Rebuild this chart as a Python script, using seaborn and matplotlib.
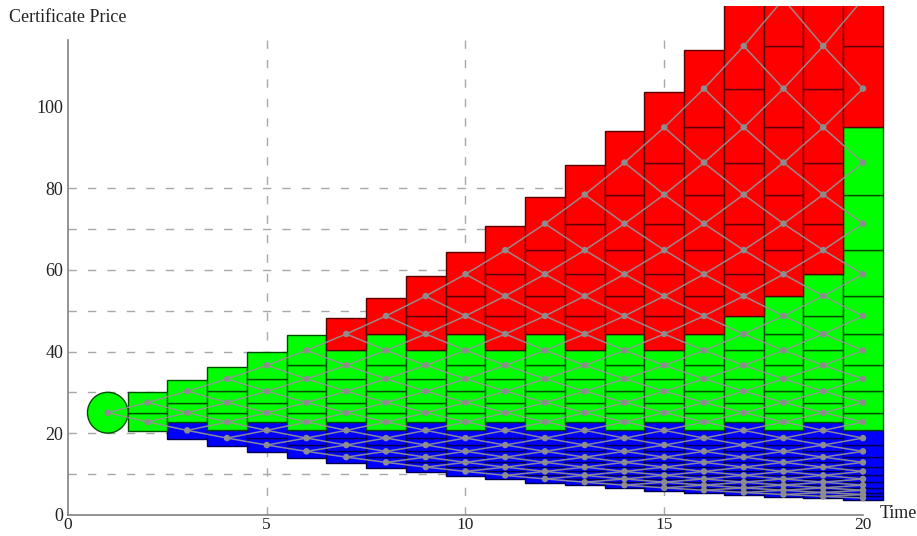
import matplotlib
matplotlib.use("Agg")
import matplotlib.pyplot as plt
import seaborn as sns
import pandas as pd
from matplotlib.patches import Ellipse

# ---------------- data ----------------
# price levels of the recombining lattice, index k = -20 .. 20
level_k = list(range(-20, 21))
level_price = [3.717, 4.088, 4.497, 4.947, 5.441, 5.985, 6.584, 7.242, 7.966,
               8.763, 9.639, 10.603, 11.663, 12.829, 14.112, 15.523, 17.075,
               18.783, 20.661, 22.727, 25.0, 27.5, 30.25, 33.275, 36.603,
               40.263, 44.289, 48.718, 53.590, 58.949, 64.844, 71.328, 78.461,
               86.307, 94.937, 104.431, 114.874, 126.362, 138.998, 152.898,
               168.187]
times = [1, 2, 3, 4, 5, 6, 7, 8, 9, 10, 11, 12, 13, 14, 15, 16, 17, 18, 19, 20]
# highest lattice index coloured blue (all columns)
blue_max_k = -2
# lowest lattice index coloured red, per time step (None = no red)
red_min_k = [None, None, None, None, None, None, 6, 7, 6, 7, 6, 7, 6, 7, 6, 7,
             8, 9, 10, 15]
x_ticks = [0, 5, 10, 15, 20]
y_ticks = [0, 20, 40, 60, 80, 100]
grid_x = [5, 10, 15]
grid_y = [10, 20, 30, 40, 50, 60, 70, 80]

price = dict(zip(level_k, level_price))

# ---------------- build tables ----------------
nodes = []
boxes = []
for i, t in enumerate(times):
    n = t - 1
    ks = list(range(-n, n + 1, 2))
    for k in ks:
        nodes.append((t, k, price[k]))
        if t == 1:
            continue
        lo = price[k - 1] if k > -n else 2 * price[k] - price[k + 1]
        hi = price[k + 1] if k < n else 2 * price[k] - price[k - 1]
        if k <= blue_max_k:
            c = "blue"
        elif red_min_k[i] is not None and k >= red_min_k[i]:
            c = "red"
        else:
            c = "green"
        boxes.append((t, lo, hi, c))

node_df = pd.DataFrame(nodes, columns=["t", "k", "price"])
box_df = pd.DataFrame(boxes, columns=["t", "lo", "hi", "kind"])

edges = []
eid = 0
for t in times[:-1]:
    n = t - 1
    for k in range(-n, n + 1, 2):
        for dk in (1, -1):
            edges.append((eid, t, price[k]))
            edges.append((eid, t + 1, price[k + dk]))
            eid += 1
edge_df = pd.DataFrame(edges, columns=["edge", "t", "price"])

# ---------------- style ----------------
sns.set_style("white")
plt.rcParams["font.family"] = ["Liberation Serif", "DejaVu Serif"]

fig = plt.figure(figsize=(9.17, 5.36), dpi=100)
ax = fig.add_axes([0.07415, 0.03974, 0.8908, 0.9492])

fills = {"red": (1.0, 0.0, 0.0), "green": (0.0, 1.0, 0.0), "blue": (0.0, 0.0, 1.0)}
edges_c = {"red": (0.35, 0.0, 0.0), "green": (0.0, 0.3, 0.0), "blue": (0.0, 0.0, 0.3)}

# grid
ax.hlines(grid_y, 0, 20, colors="#a8a8a8", linestyles=(0, (6, 8)), linewidth=1.0, zorder=0.5)
ax.vlines(grid_x, 0, 116.4, colors="#a8a8a8", linestyles=(0, (6, 8)), linewidth=1.0, zorder=0.5)

# boxes
for kind, g in box_df.groupby("kind"):
    ax.bar(g["t"], g["hi"] - g["lo"], bottom=g["lo"], width=1.0,
           color=fills[kind], edgecolor=edges_c[kind], linewidth=1.0, zorder=2)

# start node circle
ax.add_patch(Ellipse((times[0], price[0]), width=1.02, height=10.0,
                     facecolor=fills["green"], edgecolor=edges_c["green"],
                     linewidth=1.0, zorder=2))

# tree edges
sns.lineplot(data=edge_df, x="t", y="price", units="edge", estimator=None,
             sort=False, color="#959595", alpha=0.9, linewidth=1.1, ax=ax,
             zorder=3, legend=False)
# nodes
sns.scatterplot(data=node_df, x="t", y="price", color="#8c8c8c", s=22,
                edgecolor="none", ax=ax, zorder=4, legend=False)

ax.set_xlim(0, 20.55)
ax.set_ylim(0, 124.7)
ax.set_xlabel("")
ax.set_ylabel("")

for s in ["top", "right"]:
    ax.spines[s].set_visible(False)
for s in ["left", "bottom"]:
    ax.spines[s].set_color("#808080")
    ax.spines[s].set_linewidth(1.2)
ax.spines["left"].set_bounds(0, 116.4)
ax.spines["bottom"].set_bounds(0, 20)

ax.set_xticks(x_ticks)
ax.set_xticks([v for v in range(0, 21) if v not in x_ticks], minor=True)
ax.set_yticks(y_ticks)
ax.set_yticks([v for v in range(0, 116, 5) if v not in y_ticks], minor=True)
ax.tick_params(which="major", direction="in", length=6.5, width=1.0,
               color="#808080", labelsize=13, labelcolor="#222222")
ax.tick_params(which="minor", direction="in", length=3.6, width=0.9, color="#808080")
ax.tick_params(axis="x", which="major", pad=2, labelsize=12.5)
ax.tick_params(axis="y", which="major", pad=3.4)

fig.text(9 / 917, 1 - 18 / 536, "Certificate Price", fontsize=13,
         va="center", ha="left", color="#222222")
fig.text(880 / 917, 1 - 513 / 536, "Time", fontsize=13, va="center",
         ha="left", color="#222222")

fig.savefig("out.png", dpi=100)
